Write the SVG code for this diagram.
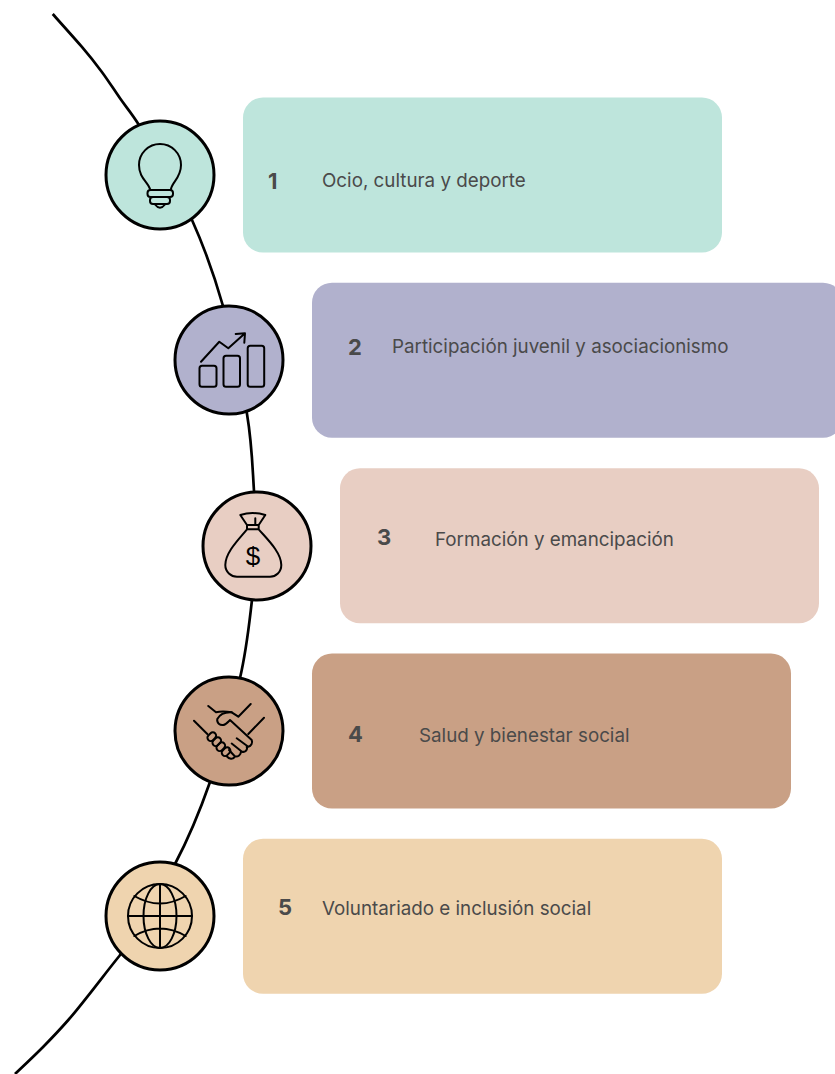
<svg xmlns="http://www.w3.org/2000/svg" width="835" height="1074" viewBox="0 0 835 1074">
<style>
.c{stroke:#000;stroke-width:3;}
.i{fill:none;stroke:#000;stroke-width:2;stroke-linecap:round;stroke-linejoin:round;}
.b{font-family:"Inter","Liberation Sans",sans-serif;font-size:22px;font-weight:700;fill:#4a4a4a;}
.t{font-family:"Inter","Liberation Sans",sans-serif;font-size:18.800px;fill:#4a4a4a;}
</style>
<rect width="835" height="1074" fill="#fff"/>
<g id="connectors">
<path fill="none" stroke="#000" stroke-width="2.700" d="M52.700 14C57.500 19.500 73.500 37.100 81.700 46.700C89.900 56.300 95.300 63.100 101.700 71.700C108.100 80.300 113.800 89.400 120 98.300C126.200 107.200 131.500 113 139 125C157 157 178.200 189.300 192 220C205.800 250.700 213.800 273.700 223 306C232.200 338.300 241.800 383.200 247 414C252.200 444.800 252.500 469.200 254 491C255.500 512.800 256.300 526.800 256 545C255.700 563.200 254.700 577.800 252 600C249.300 622.200 247 647.700 240 678C233 708.300 220.800 751 210 782C199.200 813 190 835.500 175 864C160 892.500 132 939 119.300 956C108 970 98.500 982.600 90 993.300C81.500 1004 76.100 1011.100 68.300 1020C60.500 1028.900 52.200 1037.700 43.300 1046.700C34.400 1055.700 19.700 1069.500 15 1074"/>
</g>
<g id="node1">
<rect x="243" y="97.600" width="479" height="155" rx="20" fill="#bee5dc"/>
<circle class="c" cx="160" cy="175" r="54" fill="#bee5dc"/>
<path class="i" d="M150 189C148 182 139 178 139 165A21 21 0 0 1 181 165C181 178 172 182 171 189"/>
<rect class="i" x="147.500" y="190" width="25.500" height="7" rx="3"/>
<rect class="i" x="150" y="197" width="20" height="7" rx="3"/>
<path class="i" d="M155 204.500Q160 211 165 204.500"/>
<text class="b" x="268" y="189">1</text>
<text class="t" x="322" y="187">Ocio, cultura y deporte</text>
</g>
<g id="node2">
<rect x="312" y="282.700" width="531" height="155" rx="20" fill="#b1b1cd"/>
<circle class="c" cx="229" cy="360" r="54" fill="#b1b1cd"/>
<rect class="i" x="199.500" y="365.700" width="17" height="21" rx="2.500"/>
<rect class="i" x="223.500" y="355.700" width="16.500" height="31" rx="2.500"/>
<rect class="i" x="247.700" y="345.700" width="16.500" height="41" rx="2.500"/>
<path class="i" d="M201 361.700L219.300 341.700L228.300 348.300L245 333.300M235.700 334L245 333.300L244.300 342.700"/>
<text class="b" x="348" y="355">2</text>
<text class="t" x="392" y="353">Participación juvenil y asociacionismo</text>
</g>
<g id="node3">
<rect x="340" y="468.300" width="479" height="155" rx="20" fill="#e8cec3"/>
<circle class="c" cx="257" cy="546" r="54" fill="#e8cec3"/>
<path class="i" d="M247 525L240.300 515Q252.500 511 265.300 515L258.700 525M255.300 518.300V525M247 525H258.700V529.300H247ZM247 529.300C240 538 225.300 552 225.300 565C225.300 572 231 576.700 237 576.700H270C276 576.700 281.300 572 281.300 565C281.300 552 266 538 258.700 529.300"/>
<text x="253" y="565" text-anchor="middle" font-family="Liberation Sans,sans-serif" font-size="26" fill="#000">$</text>
<text class="b" x="377" y="545">3</text>
<text class="t" x="435" y="546">Formación y emancipación</text>
</g>
<g id="node4">
<rect x="312" y="653.600" width="479" height="155" rx="20" fill="#c9a085"/>
<circle class="c" cx="229" cy="731" r="54" fill="#c9a085"/>
<path class="i" d="M194 720.700L207.300 734M264 717.700L248.300 734M208.300 706L216 712.300C221 711 227 711.500 231.700 712.300L238.300 716.700L250.700 704"/>
<path class="i" d="M231.700 712.300C226 712 220 714 217.300 719C216.500 723 220 725.500 223.300 725C226 724.500 228 722 230 720L251.700 740C253 743 251 746 248.300 746.700L236.700 738.300M246.700 746.700C248 750 245 752.500 242 751.700L231.700 743.500M241 751.300C241 755 238 757 235 756.500L229 750M235 756.500C233 760 229 759 226.500 756"/>
<rect class="i" x="207" y="733.500" width="9.500" height="6.500" rx="3.200" transform="rotate(-45 211.700 736.700)"/>
<rect class="i" x="212" y="738.500" width="9.500" height="6.500" rx="3.200" transform="rotate(-45 216.700 741.700)"/>
<rect class="i" x="216" y="743.500" width="9.500" height="6.500" rx="3.200" transform="rotate(-45 220.700 746.700)"/>
<rect class="i" x="221.300" y="748.500" width="9.500" height="6.500" rx="3.200" transform="rotate(-45 226 751.700)"/>
<text class="b" x="348" y="742">4</text>
<text class="t" x="419" y="742">Salud y bienestar social</text>
</g>
<g id="node5">
<rect x="243" y="838.800" width="479" height="155" rx="20" fill="#efd4af"/>
<circle class="c" cx="160" cy="916" r="54" fill="#efd4af"/>
<circle class="i" cx="160" cy="916" r="32"/>
<ellipse class="i" cx="160" cy="916" rx="16.500" ry="32"/>
<path class="i" d="M160 884V948M128 916H192M134.300 896Q160 911 185.700 896M134.300 936Q160 921 185.700 936"/>
<text class="b" x="278" y="915">5</text>
<text class="t" x="322" y="915">Voluntariado e inclusión social</text>
</g>
</svg>
